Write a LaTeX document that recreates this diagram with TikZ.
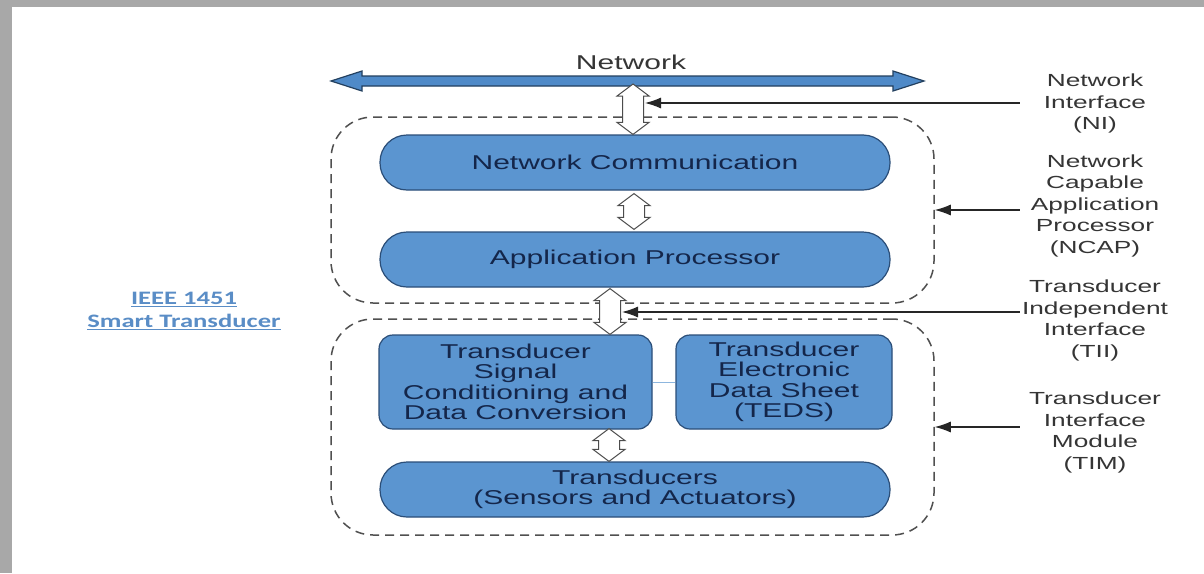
\documentclass[tikz,border=0pt]{standalone}
\usepackage{fontspec}
\setmainfont{Liberation Sans}[FakeStretch=1.5]
\newfontfamily\titlefont{Carlito}[FakeStretch=1.4]
\usetikzlibrary{calc,arrows.meta}

\definecolor{boxfill}{HTML}{5B95D0}
\definecolor{boxline}{HTML}{2B4E78}
\definecolor{boxtext}{HTML}{14264A}
\definecolor{netfill}{HTML}{4F8AC8}
\definecolor{netline}{HTML}{23405F}
\definecolor{dashgray}{HTML}{505050}
\definecolor{labtext}{HTML}{353535}
\definecolor{ieeeblue}{HTML}{5A8DC6}
\definecolor{framegray}{HTML}{A8A8A8}
\definecolor{linkblue}{HTML}{8DB6DE}

\begin{document}
\begin{tikzpicture}[x=1pt,y=-1pt,
  blk/.style={draw=boxline, fill=boxfill, line width=1.2pt, text=boxtext,
    align=center, font=\fontsize{20}{20.5}\selectfont, inner sep=0pt},
  pill/.style={blk, rounded corners=27pt, minimum width=510pt, minimum height=55pt},
  card/.style={blk, rounded corners=14pt, minimum height=94pt},
  zone/.style={draw=dashgray, line width=1.5pt, dash pattern=on 9pt off 6pt,
    rounded corners=42pt, inner sep=0pt},
  side/.style={text=labtext, align=center, font=\fontsize{17.5}{21.5}\selectfont,
    text width=150pt, inner sep=0pt},
  ptr/.style={draw=black!85, line width=1.1pt, -{Latex[length=16pt,width=11pt]}},
  fat/.style={draw=black!70, fill=white, line width=1pt,
    to path={let \p1=(\tikztostart), \p2=(\tikztotarget) in
      (\x1,\y1) -- (\x1+16pt,\y1-12pt) -- (\x1+10.5pt,\y1-12pt)
      -- (\x2+10.5pt,\y2+12pt) -- (\x2+16pt,\y2+12pt) -- (\x2,\y2)
      -- (\x2-16pt,\y2+12pt) -- (\x2-10.5pt,\y2+12pt)
      -- (\x1-10.5pt,\y1-12pt) -- (\x1-16pt,\y1-12pt) -- cycle}},
  netar/.style={draw=netline, fill=netfill, line width=1.2pt,
    to path={let \p1=(\tikztostart), \p2=(\tikztotarget) in
      (\x1,\y1) -- (\x1+31pt,\y1+10pt) -- (\x1+31pt,\y1+5pt)
      -- (\x2-31pt,\y2+5pt) -- (\x2-31pt,\y2+10pt) -- (\x2,\y2)
      -- (\x2-31pt,\y2-10pt) -- (\x2-31pt,\y2-5pt)
      -- (\x1+31pt,\y1-5pt) -- (\x1+31pt,\y1-10pt) -- cycle}},
]
% canvas and frame
\useasboundingbox (0,0) rectangle (1204,573);
\fill[white] (0,0) rectangle (1204,573);
\fill[framegray] (0,0) rectangle (12,573);
\fill[framegray] (0,0) rectangle (1204,7);

% dashed module outlines
\node[zone, minimum width=603pt, minimum height=186pt] (ncap) at (632.5,210) {};
\node[zone, minimum width=603pt, minimum height=216pt] (tim) at (632.5,427) {};

% network bus
\coordinate (netL) at (331,81);
\coordinate (netR) at (924,81);
\draw[netar] (netL) to (netR);
\node[text=labtext, font=\fontsize{20}{20}\selectfont] (netlbl) at (631,62) {Network};

% functional blocks
\node[pill] (nc) at (635,162.5) {Network Communication};
\node[pill] (ap) at (635,259.5) {Application Processor};
\node[card, minimum width=273pt] (tsc) at (515.5,382) {Transducer\\Signal\\Conditioning and\\Data Conversion};
\node[card, minimum width=216pt] (teds) at (784,382) {Transducer\\Electronic\\Data Sheet\\(TEDS)};
\node[pill] (tr) at (635,489.5) {Transducers\\(Sensors and Actuators)};
\draw[linkblue, line width=1pt] (tsc.east) -- (teds.west);

% data paths
\coordinate (niTop) at (633,84);
\coordinate (xa) at (634,0);
\coordinate (xb) at (610,0);
\coordinate (xc) at (609,0);
\draw[fat] (niTop) to (niTop |- nc.north);
\draw[fat] ($(xa |- nc.south)+(0,3)$) to ($(xa |- ap.north)+(0,-2)$);
\draw[fat] ($(xb |- ap.south)+(0,1)$) to (xb |- tsc.north);
\draw[fat] ($(xc |- tsc.south)+(0,-1)$) to (xc |- tr.north);

% interface labels
\node[side] (niL) at (1095,103.5) {Network\\Interface\\(NI)};
\node[side] (ncapL) at (1095,205.5) {Network\\Capable\\Application\\Processor\\(NCAP)};
\node[side] (tiiL) at (1095,320.5) {Transducer\\Independent\\Interface\\(TII)};
\node[side] (timL) at (1095,432.5) {Transducer\\Interface\\Module\\(TIM)};

\coordinate (niTip) at (645,103);
\coordinate (tiiTip) at (622,312);
\draw[ptr] (niL.west |- niTip) -- (niTip);
\draw[ptr] (ncapL.west |- ncap.east) -- (ncap.east);
\draw[ptr] (tiiL.west |- tiiTip) -- (tiiTip);
\draw[ptr] (timL.west |- tim.east) -- (tim.east);

% standard title
\node[text=ieeeblue, align=center, font=\titlefont\bfseries\fontsize{19}{23}\selectfont]
  (ieee) at (184,311) {\underline{IEEE 1451}\\\underline{Smart Transducer}};
\end{tikzpicture}
\end{document}
